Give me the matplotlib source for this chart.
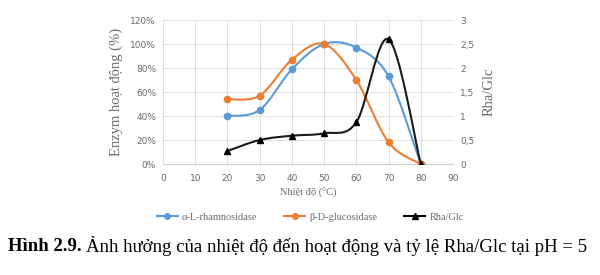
import matplotlib
matplotlib.use('Agg')
import matplotlib.pyplot as plt
from matplotlib.path import Path
from matplotlib.patches import PathPatch
from matplotlib.lines import Line2D
from matplotlib.ticker import PercentFormatter, FuncFormatter
import numpy as np

temp = [20, 30, 40, 50, 60, 70, 80]
rham = [40, 45, 79, 100, 97, 73, 0]      # alpha-L-rhamnosidase (%)
gluc = [54, 57, 87, 100, 70, 18, 0]      # beta-D-glucosidase (%)
ratio = [0.27, 0.50, 0.59, 0.64, 0.87, 2.60, 0.0]   # Rha/Glc

blue = '#5B9BD5'
orange = '#ED7D31'
grid_c = '#E0E0E0'
tick_c = '#6b6b6b'


def smooth_path(xs, ys):
    # excel style smoothed line: cubic bezier through the points
    pts = np.column_stack([xs, ys]).astype(float)
    n = len(pts)
    verts = [pts[0]]
    codes = [Path.MOVETO]
    for i in range(n - 1):
        p0 = pts[max(i - 1, 0)]
        p1 = pts[i]
        p2 = pts[i + 1]
        p3 = pts[min(i + 2, n - 1)]
        c1 = p1 + (p2 - p0) / 6.0
        c2 = p2 - (p3 - p1) / 6.0
        verts += [c1, c2, p2]
        codes += [Path.CURVE4] * 3
    return Path(verts, codes)


fig = plt.figure(figsize=(6, 2.75), dpi=100)
ax = fig.add_axes([0.2717, 0.4036, 0.4833, 0.5236])
ax2 = ax.twinx()

ax.set_xlim(0, 90)
ax.set_ylim(0, 120)
ax2.set_ylim(0, 3)
ax.set_xticks(range(0, 91, 10))
ax.set_yticks(range(0, 121, 20))
ax2.set_yticks([0, 0.5, 1, 1.5, 2, 2.5, 3])
ax.yaxis.set_major_formatter(PercentFormatter(decimals=0))
ax2.yaxis.set_major_formatter(FuncFormatter(lambda v, p: ('%g' % v).replace('.', ',')))

ax.grid(True, color=grid_c, lw=0.7)
ax.set_axisbelow(True)
for a in (ax, ax2):
    for s in a.spines.values():
        s.set_visible(False)
    a.tick_params(length=0, labelsize=6.5, labelcolor=tick_c, pad=5)
ax.tick_params(axis='x', pad=7)
ax.spines['bottom'].set_visible(True)
ax.spines['bottom'].set_color('#D0D0D0')

serif = 'Liberation Serif'
ax.set_ylabel('Enzym hoạt động (%)', fontsize=10.5, color=tick_c, family=serif, labelpad=5)
ax2.set_ylabel('Rha/Glc', fontsize=10.5, color=tick_c, family=serif, labelpad=6)
ax.set_xlabel('Nhiệt độ (°C)', fontsize=7.5, color=tick_c, family=serif, labelpad=4)

ax.add_patch(PathPatch(smooth_path(temp, rham), fill=False, ec=blue, lw=1.5))
ax.add_patch(PathPatch(smooth_path(temp, gluc), fill=False, ec=orange, lw=1.5))
ax2.add_patch(PathPatch(smooth_path(temp, ratio), fill=False, ec='#1a1a1a', lw=1.5))
ax.plot(temp, rham, 'o', color=blue, ms=4.5, zorder=3)
ax.plot(temp, gluc, 'o', color=orange, ms=4.5, zorder=3)
ax2.plot(temp, ratio, '^', color='black', ms=4.5, zorder=3)

handles = [
    Line2D([], [], color=blue, marker='o', ms=4, lw=1.5),
    Line2D([], [], color=orange, marker='o', ms=4, lw=1.5),
    Line2D([], [], color='black', marker='^', ms=4, lw=1.5),
]
fig.legend(handles, ['α-L-rhamnosidase', 'β-D-glucosidase', 'Rha/Glc'],
           loc='center', bbox_to_anchor=(0.517, 0.211), ncol=3, frameon=False,
           prop={'family': serif, 'size': 7.5}, handlelength=2.0, handletextpad=0.4,
           columnspacing=2.6, labelcolor=tick_c)

cap = fig.text(0.013, 0.105, 'Hình 2.9.', family=serif, fontsize=13.5, fontweight='bold', va='center')
fig.canvas.draw()
bb = cap.get_window_extent()
x1 = bb.x1 / fig.bbox.width
fig.text(x1 + 0.007, 0.105, 'Ảnh hưởng của nhiệt độ đến hoạt động và tỷ lệ Rha/Glc tại pH = 5',
         family=serif, fontsize=13.5, va='center')

fig.savefig('out.png', dpi=100)
